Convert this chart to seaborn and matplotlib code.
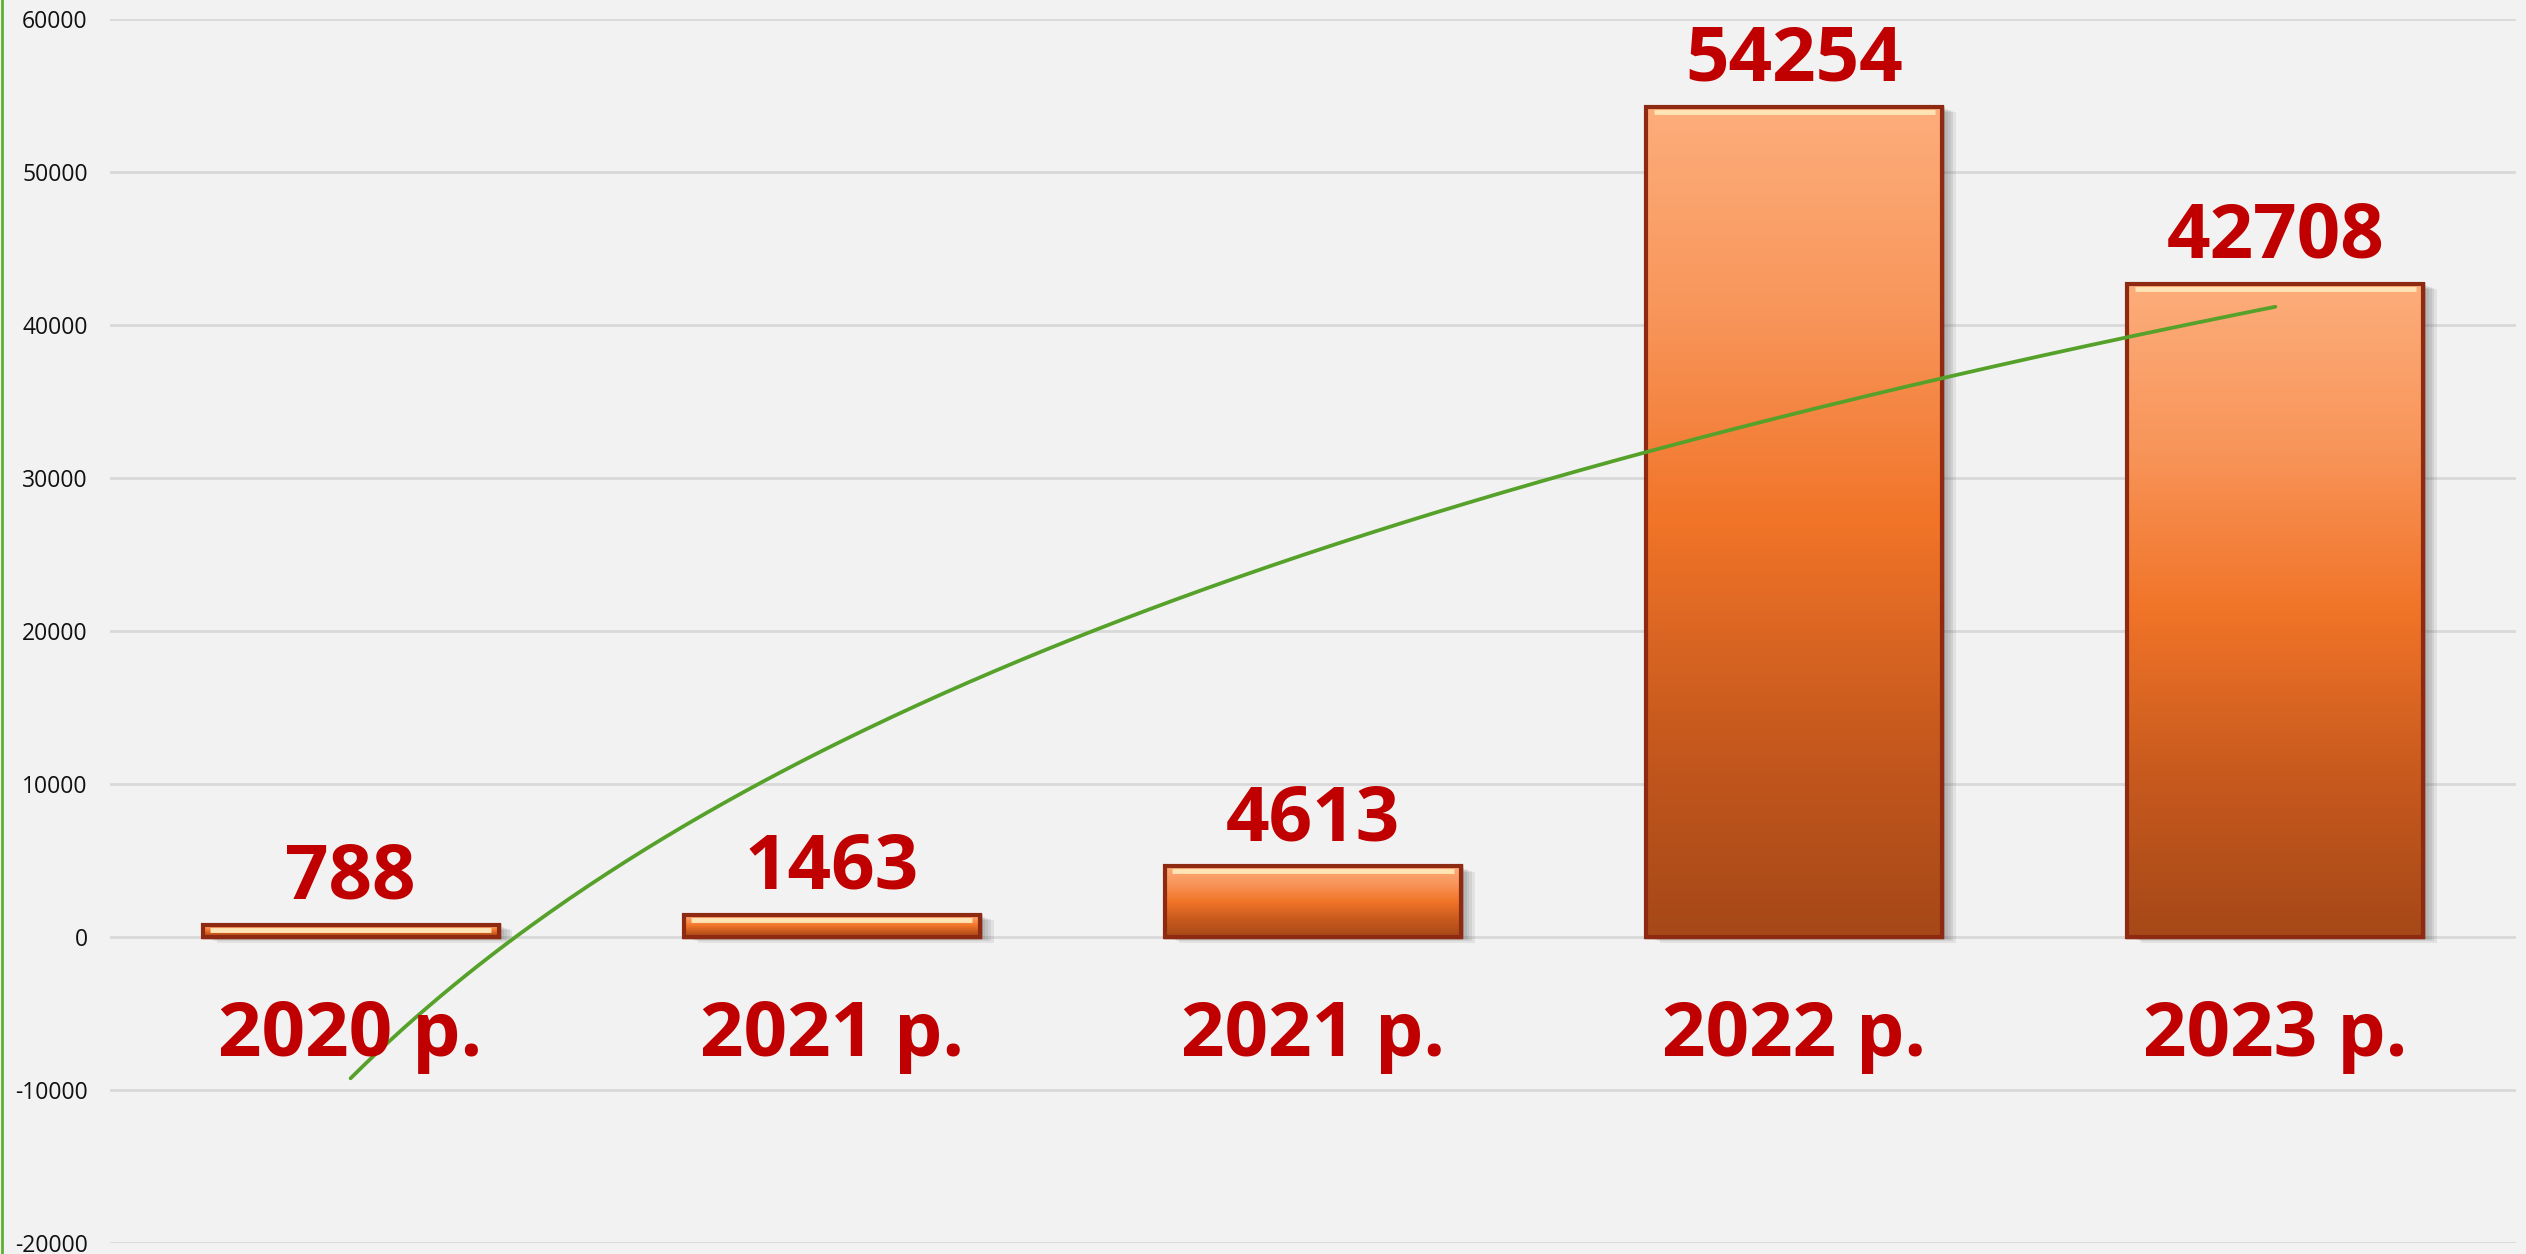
import numpy as np
import pandas as pd
import matplotlib
matplotlib.use("Agg")
import matplotlib.pyplot as plt
import matplotlib.transforms as mtransforms
import matplotlib.patheffects as pe
from matplotlib.colors import LinearSegmentedColormap
from matplotlib.lines import Line2D
import seaborn as sns

# ---- data ----
categories = ["2020 р.", "2021 р.", "2021 р.", "2022 р.", "2023 р."]
values = [788, 1463, 4613, 54254, 42708]
y_ticks = [-20000, -10000, 0, 10000, 20000, 30000, 40000, 50000, 60000]

sns.set_theme(style="white")
plt.rcParams['font.family'] = ['Open Sans', 'DejaVu Sans']

fig = plt.figure(figsize=(25.26, 12.54), dpi=100, facecolor="#F2F2F2")
ax = fig.add_axes([110/2526, 1-1243/1254, (2516-110)/2526, (1243-19)/1254])
ax.set_facecolor("#F2F2F2")

df = pd.DataFrame({"pos": list(range(len(values))), "value": values})
sns.barplot(data=df, x="pos", y="value", ax=ax, width=0.615,
            color="#F37728", edgecolor="#8E2A12", linewidth=2.5, zorder=2)

ax.set_ylim(-20000, 60000)
ax.set_xlim(-0.5, len(values) - 0.5)
ax.set_yticks(y_ticks)
ax.set_yticklabels([str(t) for t in y_ticks], fontsize=16.5, color="#111111")
ax.tick_params(axis="y", length=0, pad=16)
ax.set_xticks([])
ax.set_xlabel("")
ax.set_ylabel("")
for s in ax.spines.values():
    s.set_visible(False)
ax.yaxis.grid(True, color="#D9D9D9", linewidth=2)
ax.set_axisbelow(True)

# gradient fill on each bar
cmap = LinearSegmentedColormap.from_list(
    "bar", [(0.0, "#A64818"), (0.25, "#C85A1E"), (0.5, "#F17428"),
            (0.75, "#F8955A"), (1.0, "#FDAD7B")])
grad = np.linspace(0, 1, 256).reshape(-1, 1)
hl_tr = mtransforms.offset_copy(ax.transData, fig=fig, y=-5, units="dots")
shadows = [pe.SimplePatchShadow(offset=(o, -o * 0.4), shadow_rgbFace=(0.3, 0.3, 0.3), alpha=0.10)
           for o in (10, 8, 6, 4, 2)]
for p in ax.patches:
    x0, y0 = p.get_x(), p.get_y()
    w, h = p.get_width(), p.get_height()
    p.set_path_effects(shadows + [pe.Normal()])
    im = ax.imshow(grad, extent=(x0, x0 + w, y0, y0 + h), origin="lower",
                   cmap=cmap, aspect="auto", zorder=2.5, interpolation="bilinear")
    im.set_clip_path(p)
    edge = plt.Rectangle((x0, y0), w, h, fill=False, edgecolor="#8E2A12",
                         linewidth=3, zorder=2.6)
    ax.add_patch(edge)
    ax.plot([x0 + w * 0.025, x0 + w * 0.975], [y0 + h, y0 + h], color="#FFE4B5",
            linewidth=3.5, transform=hl_tr, zorder=2.7, solid_capstyle="butt")

ax.set_xlim(-0.5, len(values) - 0.5)

# logarithmic trendline fitted to the data
xs = np.arange(1, len(values) + 1)
a, b = np.polyfit(np.log(xs), values, 1)
t = np.linspace(1, len(values), 300)
ax.plot(t - 1, a * np.log(t) + b, color="#55A12A", linewidth=2.7, zorder=3)

# value labels
for i, v in enumerate(values):
    ax.annotate(f"{v}", xy=(i, v), xytext=(0, 19), textcoords="offset points",
                ha="center", va="baseline", fontsize=55, fontweight="bold",
                color="#C00000", zorder=4)

# category labels inside plot
for i, c in enumerate(categories):
    ax.text(i, -7750, c, ha="center", va="baseline", fontsize=55,
            fontweight="bold", color="#C00000", zorder=4)

fig.add_artist(Line2D([0.0006, 0.0006], [0, 1], color="#5DB130", linewidth=2,
                      transform=fig.transFigure))

fig.savefig("out.png", dpi=100, facecolor=fig.get_facecolor())
